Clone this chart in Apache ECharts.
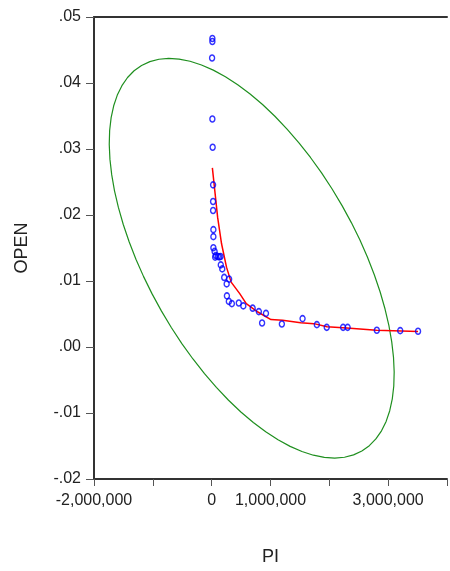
<!DOCTYPE html>
<html>
<head>
<meta charset="utf-8">
<script src="https://cdn.jsdelivr.net/npm/echarts@6/dist/echarts.min.js"></script>
<style>
  html,body{margin:0;padding:0;background:#fff;}
  #chart{width:450px;height:571px;}
</style>
</head>
<body>
<div id="chart"></div>
<script>
// scatter points PI / OPEN
var piValues = [12000, 12000, 7000, 12000, 17000, 24000, 24000, 24000, 29000, 29000,
  29000, 50000, 71000, 59000, 104000, 129000, 151000, 155000, 180000, 213000,
  297000, 255000, 259000, 292000, 343000, 461000, 538000, 697000, 802000, 923000,
  857000, 1193000, 1545000, 1788000, 1956000, 2234000, 2311000, 2807000, 3205000, 3508000];
var openValues = [0.04675, 0.04629, 0.04378, 0.03455, 0.03026, 0.02457, 0.02204, 0.02068, 0.01778, 0.01672,
  0.01504, 0.01448, 0.01387, 0.01362, 0.01372, 0.01365, 0.01372, 0.01244, 0.01183, 0.01054,
  0.01029, 0.00956, 0.00775, 0.00691, 0.00657, 0.00666, 0.00623, 0.00588, 0.00536, 0.00510,
  0.00363, 0.00348, 0.00430, 0.00339, 0.00298, 0.00298, 0.00298, 0.00253, 0.00248, 0.00238];

// red fit line
var fitPI = [12000, 101000, 168000, 252000, 331000, 477000, 588000, 785000, 1008000, 1205000,
  1513000, 1738000, 1961000, 2297000, 2802000, 3508000];
var fitOPEN = [0.02714, 0.01967, 0.01564, 0.01210, 0.00983, 0.00808, 0.00657, 0.00530, 0.00415, 0.00404,
  0.00369, 0.00354, 0.00306, 0.00287, 0.00253, 0.00234];

// green ellipse outline (going round the curve)
var ellipsePI = [2553100, 2412100, 2258000, 2091800, 1915000, 1728700, 1534300, 1333700, 1127800, 918700,
  707900, 496600, 286900, 80100, -122100, -318100, -506700, -686000, -855100, -1012600,
  -1156900, -1287300, -1402900, -1502500, -1585500, -1651400, -1699300, -1729300, -1740800, -1734100,
  -1708700, -1665300, -1604000, -1525400, -1429800, -1318500, -1191700, -1050700, -896600, -730400,
  -553600, -367300, -172900, 27700, 233600, 442700, 653500, 864800, 1074500, 1281300,
  1483500, 1679500, 1868100, 2047400, 2216500, 2374000, 2518300, 2648700, 2764300, 2863900,
  2946900, 3012800, 3060700, 3090700, 3102200, 3095500, 3070100, 3026700, 2965400, 2886800,
  2791200, 2679900, 2553100];
var ellipseOPEN = [-0.015761, -0.016346, -0.016702, -0.016829, -0.016728, -0.016395, -0.015836, -0.015056, -0.014054, -0.012846,
  -0.011437, -0.009841, -0.008064, -0.006125, -0.004037, -0.001816, 0.000522, 0.002955, 0.005472, 0.008049,
  0.010664, 0.013304, 0.015943, 0.018563, 0.021146, 0.023669, 0.026115, 0.028462, 0.030696, 0.032802,
  0.034756, 0.036551, 0.038170, 0.039599, 0.040830, 0.041852, 0.042659, 0.043244, 0.043600, 0.043727,
  0.043626, 0.043293, 0.042734, 0.041954, 0.040952, 0.039744, 0.038335, 0.036739, 0.034962, 0.033023,
  0.030935, 0.028714, 0.026376, 0.023943, 0.021426, 0.018849, 0.016234, 0.013594, 0.010955, 0.008335,
  0.005752, 0.003229, 0.000783, -0.001564, -0.003798, -0.005904, -0.007858, -0.009653, -0.011272, -0.012701,
  -0.013932, -0.014954, -0.015761];

// x tick labels that are shown
var xShownTicks = [-2000000, 0, 1000000, 3000000];

function zip(a, b){
  var out = [];
  for (var i = 0; i < a.length; i++) out.push([a[i], b[i]]);
  return out;
}
function commas(v){
  return String(v).replace(/\B(?=(\d{3})+(?!\d))/g, ',');
}

var font = 'Liberation Sans, Arial, sans-serif';
var chart = echarts.init(document.getElementById('chart'));
var option = {
  animation: false,
  backgroundColor: '#fff',
  grid: {left: 94, top: 17, width: 357, height: 462, containLabel: false},
  xAxis: [{
    type: 'value',
    min: -2000000, max: 4000000, interval: 1000000,
    name: 'PI', nameLocation: 'middle', nameGap: 69,
    nameTextStyle: {fontFamily: font, fontSize: 18, color: '#222'},
    splitLine: {show: false},
    axisLine: {onZero: false, lineStyle: {color: '#333', width: 2}},
    axisTick: {show: true, length: 7, lineStyle: {color: '#555', width: 1}},
    axisLabel: {
      margin: 14, fontFamily: font, fontSize: 16, color: '#222',
      formatter: function(v){ return xShownTicks.indexOf(v) >= 0 ? commas(v) : ''; }
    }
  }, {
    // top border line
    type: 'value', position: 'top',
    min: -2000000, max: 4000000,
    splitLine: {show: false}, axisTick: {show: false}, axisLabel: {show: false},
    axisLine: {onZero: false, lineStyle: {color: '#333', width: 2}}
  }],
  yAxis: {
    type: 'value',
    min: -0.02, max: 0.05, interval: 0.01,
    name: 'OPEN', nameLocation: 'middle', nameGap: 63, nameRotate: 90,
    nameTextStyle: {fontFamily: font, fontSize: 18, color: '#222'},
    splitLine: {show: false},
    axisLine: {onZero: false, lineStyle: {color: '#333', width: 2}},
    axisTick: {show: true, length: 8, lineStyle: {color: '#555', width: 1}},
    axisLabel: {
      margin: 13, fontFamily: font, fontSize: 16, color: '#222',
      formatter: function(v){ return v.toFixed(2).replace('0.', '.'); }
    }
  },
  series: [{
    type: 'line',
    data: zip(ellipsePI, ellipseOPEN),
    smooth: false,
    showSymbol: false,
    lineStyle: {color: '#1f8f1f', width: 1.2},
    z: 2
  }, {
    type: 'line',
    data: zip(fitPI, fitOPEN),
    showSymbol: false,
    lineStyle: {color: '#ff0000', width: 1.5},
    z: 3
  }, {
    type: 'scatter',
    data: zip(piValues, openValues),
    symbol: 'circle',
    symbolSize: [5, 6],
    itemStyle: {color: 'rgba(0,0,0,0)', borderColor: '#0000ff', borderWidth: 1.5},
    z: 4
  }]
};
chart.setOption(option);
</script>
</body>
</html>
